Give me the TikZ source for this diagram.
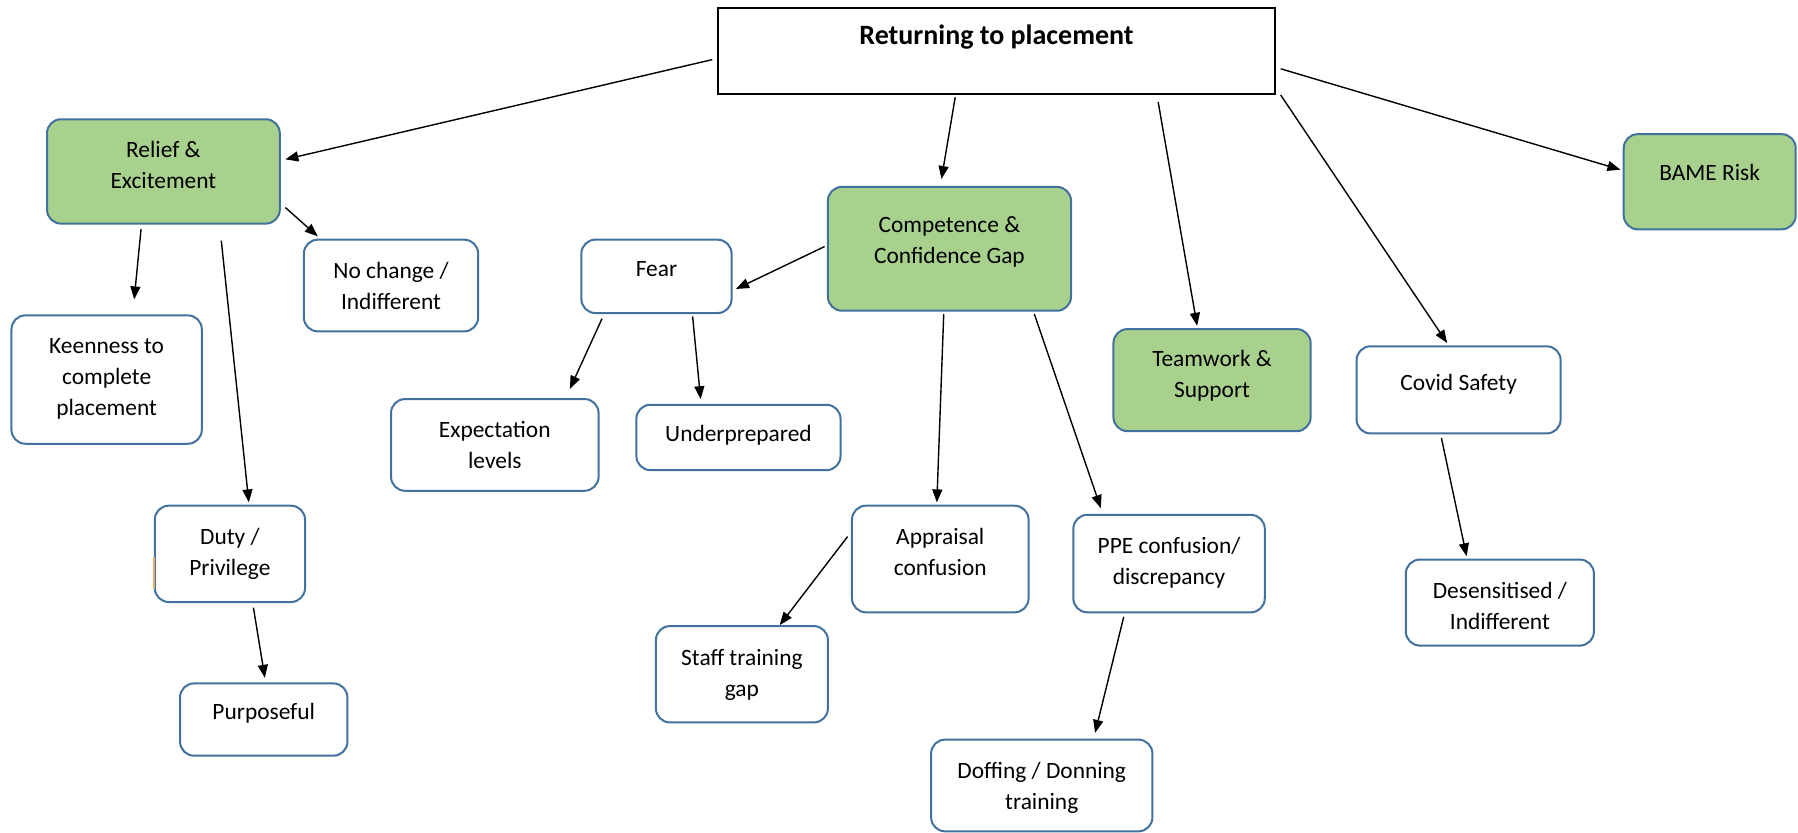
\documentclass[tikz,border=0pt]{standalone}
\usepackage{fontspec}
\setmainfont{Carlito}
\usetikzlibrary{arrows.meta,fit}
\definecolor{boxgreen}{HTML}{A9D18E}
\definecolor{boxline}{HTML}{41719C}
\definecolor{marktan}{HTML}{E8B35A}
% text block, lowered or raised inside its box
\newcommand{\boxtext}[2]{\raisebox{#1}[0pt][0pt]{\begin{tabular}{@{}c@{}}#2\end{tabular}}}

\begin{document}
\begin{tikzpicture}[x=0.5733pt, y=-0.5733pt,
  >={Triangle[length=6.5pt,width=5pt]},
  every node/.style={font=\fontsize{11.7pt}{15.5pt}\selectfont},
  topic/.style={rectangle, draw=black, line width=1pt, inner sep=0pt,
    font=\fontsize{14pt}{17pt}\selectfont\bfseries},
  theme/.style={rectangle, rounded corners=7pt, draw=boxline, line width=1pt,
    fill=boxgreen, inner sep=0pt},
  subtheme/.style={rectangle, rounded corners=7pt, draw=boxline, line width=1pt,
    fill=white, inner sep=0pt},
  link/.style={->, line width=0.7pt}]
\useasboundingbox (0,0) rectangle (1568,726);

% main topic
\node (title) [topic, fit={(626,7) (1112,82)}] {\boxtext{3pt}{Returning to placement}};

% themes
\node (relief) [theme, fit={(41,104) (244,195)}] {\boxtext{-0.6pt}{Relief \&\\Excitement}};
\node (comp) [theme, fit={(722,163) (934,271)}] {\boxtext{0.35pt}{Competence \&\\Confidence Gap}};
\node (team) [theme, fit={(971,287) (1143,376)}] {\boxtext{-0.8pt}{Teamwork \&\\Support}};
\node (bame) [theme, fit={(1416,117) (1566,200)}] {\boxtext{0.9pt}{BAME Risk}};

% sub themes
\node (nochange) [subtheme, fit={(265,209) (417,289)}] {\boxtext{-4.3pt}{No change /\\Indifferent}};
\node (keen) [subtheme, fit={(10,275) (176,387)}] {\boxtext{-2.6pt}{Keenness to\\complete\\placement}};
\node (duty) [subtheme, fit={(135,441) (266,525)}] {\boxtext{-3.15pt}{Duty /\\Privilege}};
\node (purpose) [subtheme, fit={(157,596) (303,659)}] {\boxtext{0.3pt}{Purposeful}};
\node (fear) [subtheme, fit={(507,209) (638,273)}] {\boxtext{0pt}{Fear}};
\node (expect) [subtheme, fit={(341,348) (522,428)}] {\boxtext{-3.7pt}{Expectation\\levels}};
\node (underprep) [subtheme, fit={(555,353) (733,410)}] {\boxtext{-1.95pt}{Underprepared}};
\node (appraisal) [subtheme, fit={(743,441) (897,534)}] {\boxtext{-0.55pt}{Appraisal\\confusion}};
\node (staff) [subtheme, fit={(572,546) (722,630)}] {\boxtext{-3.15pt}{Staff training\\gap}};
\node (ppe) [subtheme, fit={(936,449) (1103,534)}] {\boxtext{-2.85pt}{PPE confusion/\\discrepancy}};
\node (doffing) [subtheme, fit={(812,645) (1005,725)}] {\boxtext{-4.25pt}{Doffing / Donning\\training}};
\node (covid) [subtheme, fit={(1183,302) (1361,378)}] {\boxtext{0pt}{Covid Safety}};
\node (desens) [subtheme, fit={(1226,488) (1390,563)}] {\boxtext{-5.7pt}{Desensitised /\\Indifferent}};

% small mark on the duty box
\draw [marktan, line width=1pt] ([shift={(0,3)}]duty.west) -- ([shift={(0,31)}]duty.west);

% arrows from the main topic
\draw [link] ([shift={(-4,7.5)}]title.west) to ([shift={(4,-10.5)}]relief.east);
\draw [link] ([shift={(-36,2)}]title.south) to ([shift={(-7,-6)}]comp.north);
\draw [link] ([shift={(141,6)}]title.south) to ([shift={(-13,-2)}]team.north);
\draw [link] ([shift={(4,0)}]title.south east) to ([shift={(-10,-2)}]covid.north);
\draw [link] ([shift={(4,15.5)}]title.east) to ([shift={(-2,-10.5)}]bame.west);

% relief & excitement
\draw [link] ([shift={(4,31.5)}]relief.east) to ([shift={(13,-2)}]nochange.north west);
\draw [link] ([shift={(-19.5,4)}]relief.south) to ([shift={(24,-13)}]keen.north);
\draw [link] ([shift={(50.5,14)}]relief.south) to ([shift={(16.5,-2)}]duty.north);
\draw [link] ([shift={(20.5,4)}]duty.south) to ([shift={(1,-4)}]purpose.north);

% competence & confidence gap
\draw [link] ([shift={(-2,-2)}]comp.west) to ([shift={(3,11)}]fear.east);
\draw [link] ([shift={(-47.5,4)}]fear.south) to ([shift={(65.5,-8)}]expect.north);
\draw [link] ([shift={(31.5,2)}]fear.south) to ([shift={(-33,-4)}]underprep.north);
\draw [link] ([shift={(-5,2)}]comp.south) to ([shift={(-3,-2)}]appraisal.north);
\draw [link] ([shift={(74,2)}]comp.south) to ([shift={(-59.5,-5)}]ppe.north);
\draw [link] ([shift={(-3,-19.5)}]appraisal.west) to ([shift={(33,0)}]staff.north);
\draw [link] ([shift={(-39.5,3)}]ppe.south) to ([shift={(46.5,-5)}]doffing.north);

% covid safety
\draw [link] ([shift={(-15,3)}]covid.south) to ([shift={(-29,-2)}]desens.north);
\end{tikzpicture}
\end{document}
